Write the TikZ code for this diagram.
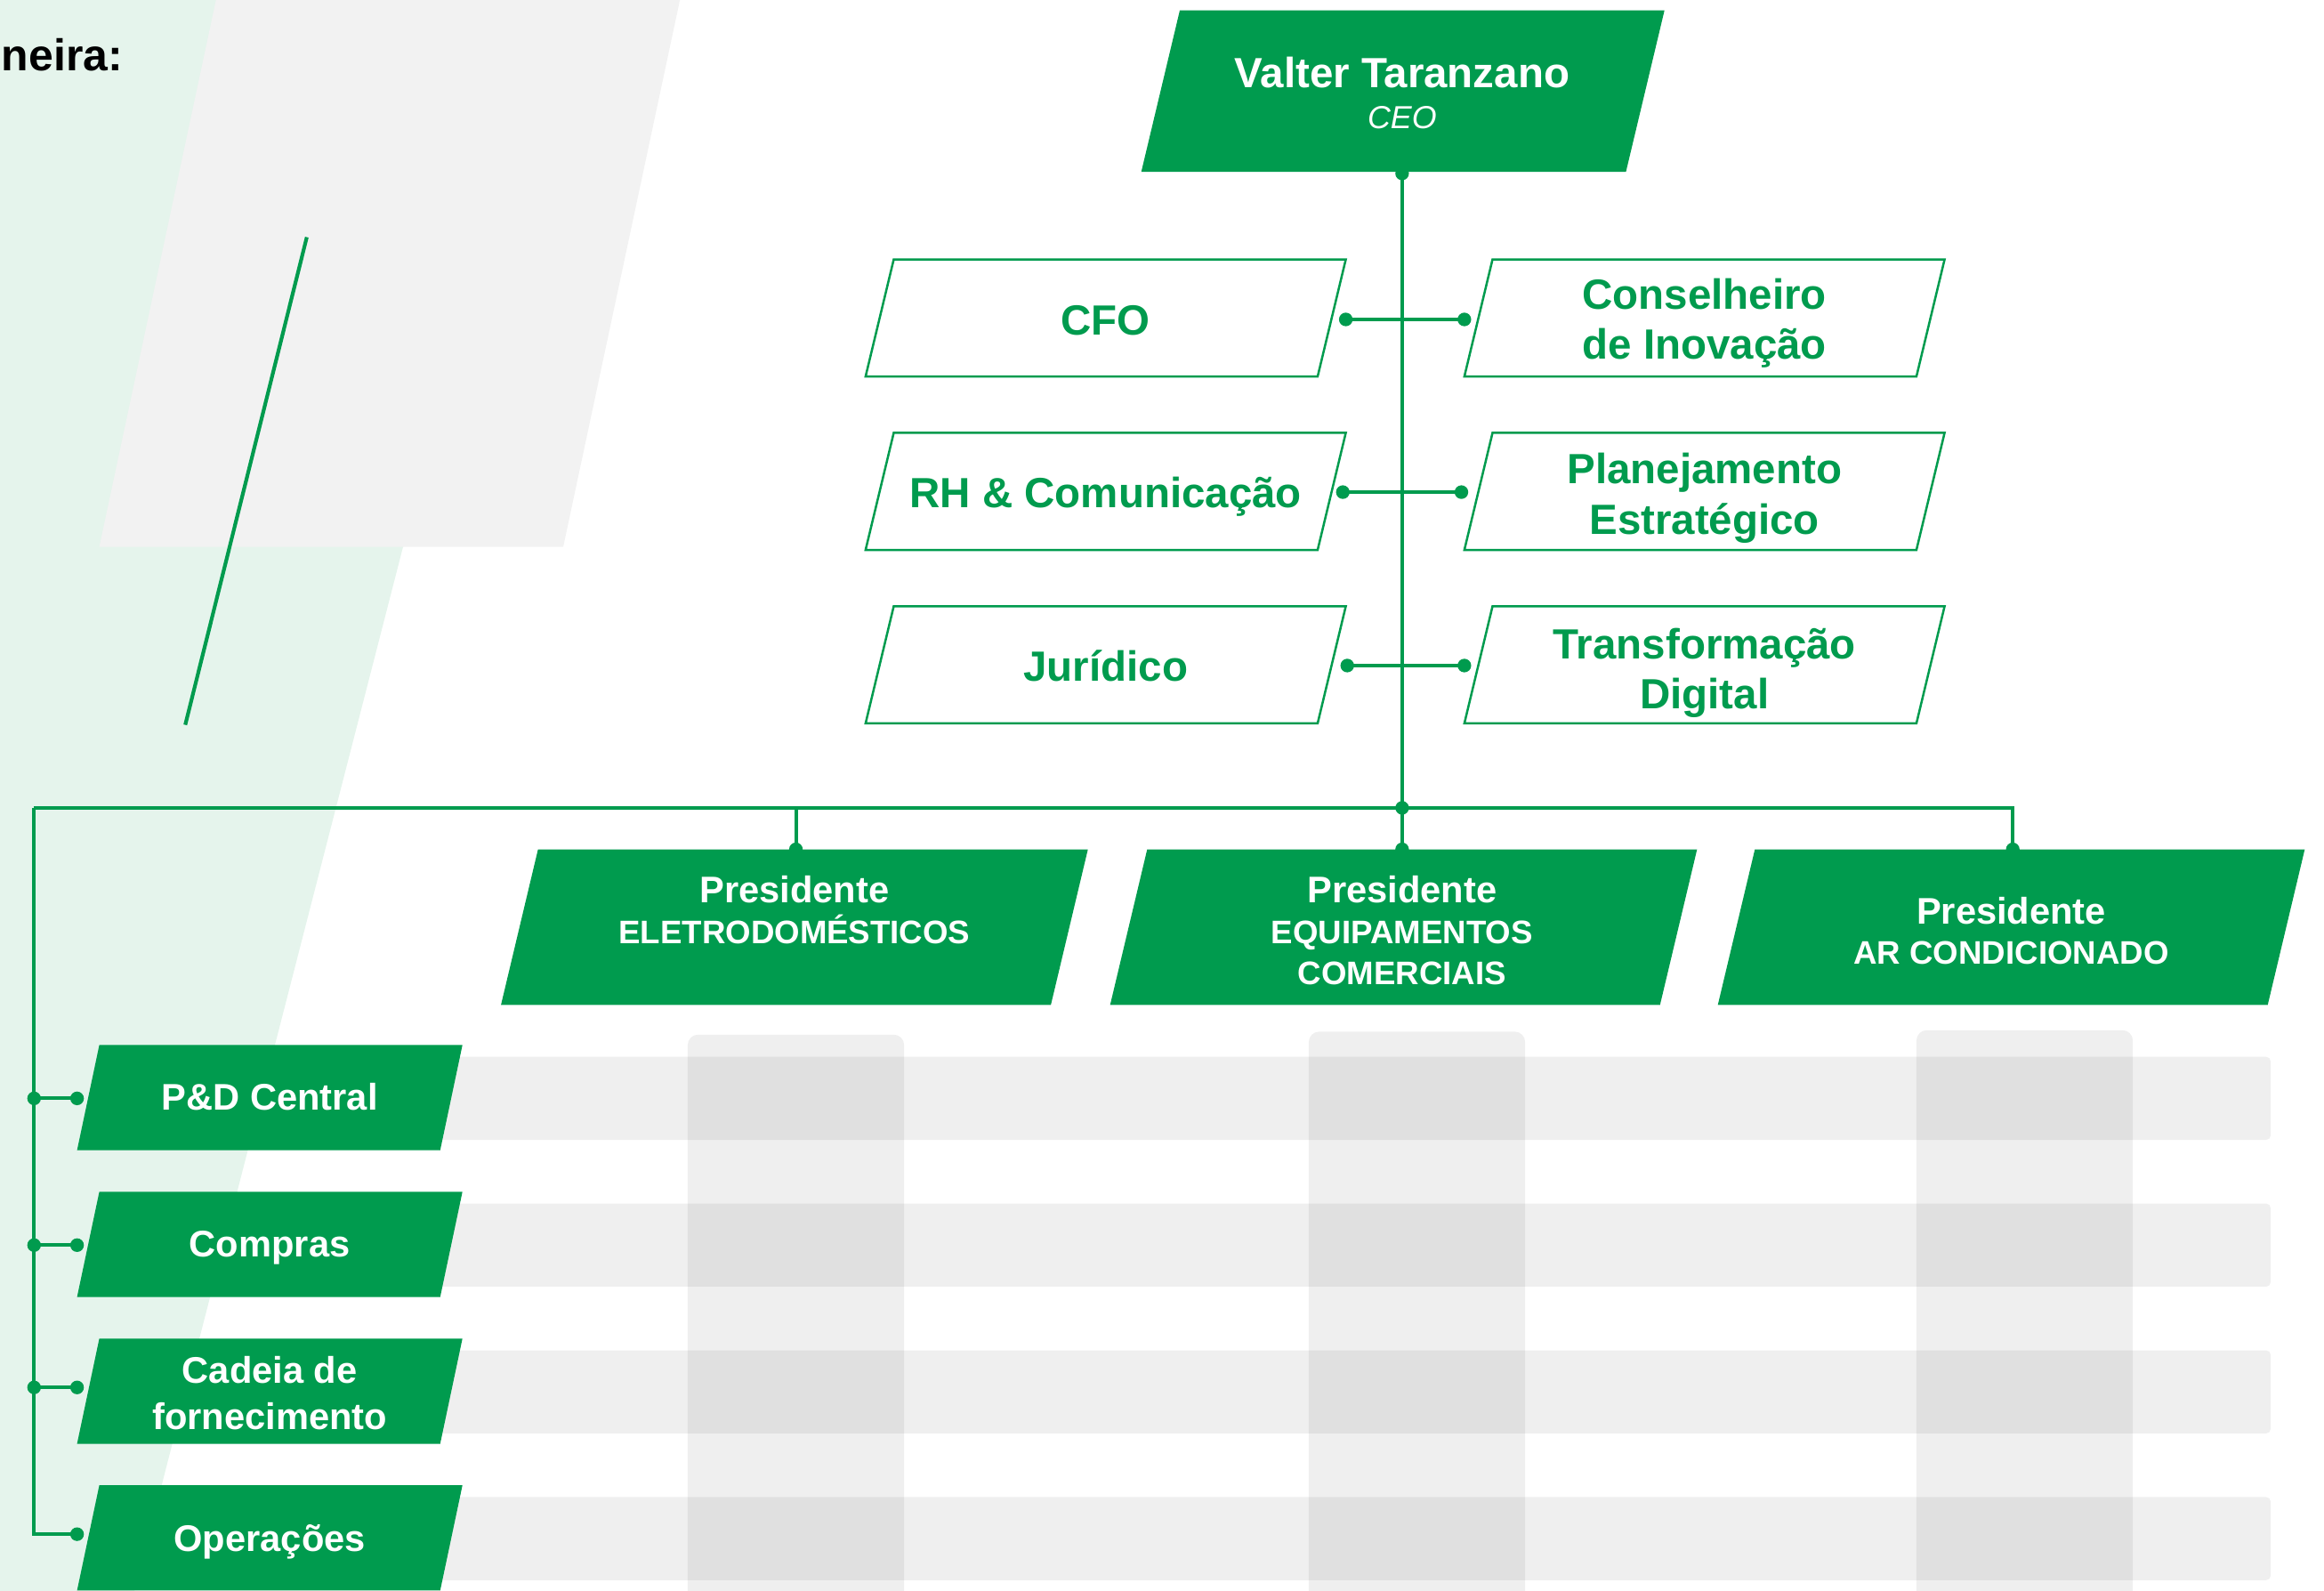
\documentclass[tikz,border=0pt]{standalone}
\usepackage{fontspec}
\setmainfont{Liberation Sans}
\definecolor{brand}{RGB}{0,155,78}
\definecolor{bglight}{RGB}{229,244,236}
\definecolor{bggrey}{RGB}{242,242,242}
\tikzset{
  conn/.style={draw=brand, line width=2.4pt},
  greenbox/.style={fill=brand},
  outbox/.style={draw=brand, line width=1.5pt, fill=white},
  stafftxt/.style={text=brand, align=center, font=\bfseries\fontsize{28.5}{34}\selectfont, inner sep=0pt},
  prestxt/.style={text=white, align=center, font=\bfseries\fontsize{22}{27.5}\selectfont, inner sep=0pt},
  unittxt/.style={text=white, align=center, font=\bfseries\fontsize{25}{31}\selectfont, inner sep=0pt},
  greyband/.style={fill=black, fill opacity=0.0627},
}
\newcommand\dotat[1]{\fill[brand] (#1) circle (4.6pt);}
\begin{document}
\begin{tikzpicture}[x=1pt,y=-1pt]
\useasboundingbox (0,0) rectangle (1568,1073);
\begin{scope}
\clip (0,0) rectangle (1568,1073);
% background shapes
\fill[bglight] (-5,-20) -- (372,-20) -- (89,1080) -- (-5,1080) -- cycle;
\fill[bggrey] (150,-20) -- (463,-20) -- (380,369) -- (67,369) -- cycle;
\draw[brand, line width=2.5pt] (207,160) -- (125,489);
\node[anchor=base east, inner sep=0pt, font=\bfseries\fontsize{30}{36}\selectfont] (title) at (83,48) {neira:};
% grey grid
\foreach \ry in {713,812,911,1010}
  \fill[greyband, rounded corners=3pt] (280,\ry) rectangle (1532,\ry+56);
\foreach \cx/\ct in {464/698,883/696,1293/695}
  \fill[greyband, rounded corners=7pt] (\cx,\ct) rectangle (\cx+146,1095);

% connector points
\coordinate (ceoS) at (946,117);
\coordinate (hub) at (946,545);
\coordinate (busL) at (23,545);
\coordinate (busR) at (1358,545);
\coordinate (p1N) at (537,573);
\coordinate (p2N) at (946,573);
\coordinate (p3N) at (1358,573);
\coordinate (cfoE) at (908,215.5);
\coordinate (consW) at (988,215.5);
\coordinate (rhE) at (906,332);
\coordinate (planW) at (986,332);
\coordinate (jurE) at (909,449);
\coordinate (transW) at (988,449);
\coordinate (pdW) at (52,741);
\coordinate (compW) at (52,840);
\coordinate (cadW) at (52,936);
\coordinate (operW) at (52,1035);

% connectors
\draw[conn] (ceoS) -- (hub);
\draw[conn] (busL) -- (busR) -- (p3N);
\draw[conn] (p1N |- hub) -- (p1N);
\draw[conn] (hub) -- (p2N);
\draw[conn] (cfoE) -- (consW);
\draw[conn] (rhE) -- (planW);
\draw[conn] (jurE) -- (transW);
\draw[conn] (busL) |- (operW);
\draw[conn] (busL |- pdW) -- (pdW);
\draw[conn] (busL |- compW) -- (compW);
\draw[conn] (busL |- cadW) -- (cadW);
% dots
\dotat{ceoS}\dotat{hub}\dotat{p1N}\dotat{p2N}\dotat{p3N}
\dotat{cfoE}\dotat{consW}\dotat{rhE}\dotat{planW}\dotat{jurE}\dotat{transW}
\dotat{pdW}\dotat{compW}\dotat{cadW}\dotat{operW}
\dotat{busL |- pdW}\dotat{busL |- compW}\dotat{busL |- cadW}

% CEO
\path[greenbox] (770,116) -- ++(26,-109) -- ++(327,0) -- ++(-26,109) -- cycle;
\node[text=white, inner sep=0pt, anchor=base, font=\bfseries\fontsize{28.5}{30}\selectfont] (ceo) at (946,59) {Valter Taranzano};
\node[text=white, inner sep=0pt, anchor=base, font=\itshape\fontsize{21.5}{26}\selectfont] (ceorole) at (946,87) {CEO};

% staff boxes
\foreach \yy in {175,292,409}{
  \path[outbox] (584,\yy+79) -- ++(19,-79) -- ++(305,0) -- ++(-19,79) -- cycle;
  \path[outbox] (988,\yy+79) -- ++(19,-79) -- ++(305,0) -- ++(-19,79) -- cycle;
}
\node[stafftxt] (cfo) at (746,216) {CFO};
\node[stafftxt] (rh) at (746,335) {RH \& Comunicação};
\node[stafftxt] (jur) at (746,449) {Jurídico};
\node[stafftxt] (cons) at (1150,218) {Conselheiro\\de Inovação};
\node[stafftxt] (plan) at (1150,336) {Planejamento\\Estratégico};
\node[stafftxt] (trans) at (1150,454) {Transformação\\Digital};

% presidents
\foreach \bx in {338,749,1159}
  \path[greenbox] (\bx,678) -- ++(25,-105) -- ++(371,0) -- ++(-25,105) -- cycle;
\node[prestxt] (pres1) at (536,614) {{\fontsize{25}{27.5}\selectfont Presidente}\\ELETRODOMÉSTICOS};
\node[prestxt] (pres2) at (946,627.5) {{\fontsize{25}{27.5}\selectfont Presidente}\\EQUIPAMENTOS\\COMERCIAIS};
\node[prestxt] (pres3) at (1357,628) {{\fontsize{25}{27.5}\selectfont Presidente}\\AR CONDICIONADO};

% units
\foreach \uy in {705,804,903,1002}
  \path[greenbox] (52,\uy+71) -- ++(15,-71) -- ++(245,0) -- ++(-15,71) -- cycle;
\node[unittxt] (pd) at (182,740) {P\&D Central};
\node[unittxt] (comp) at (182,842) {Compras};
\node[unittxt] (cad) at (182,940) {Cadeia de\\fornecimento};
\node[unittxt] (oper) at (182,1040) {Operações};
\end{scope}
\end{tikzpicture}
\end{document}
